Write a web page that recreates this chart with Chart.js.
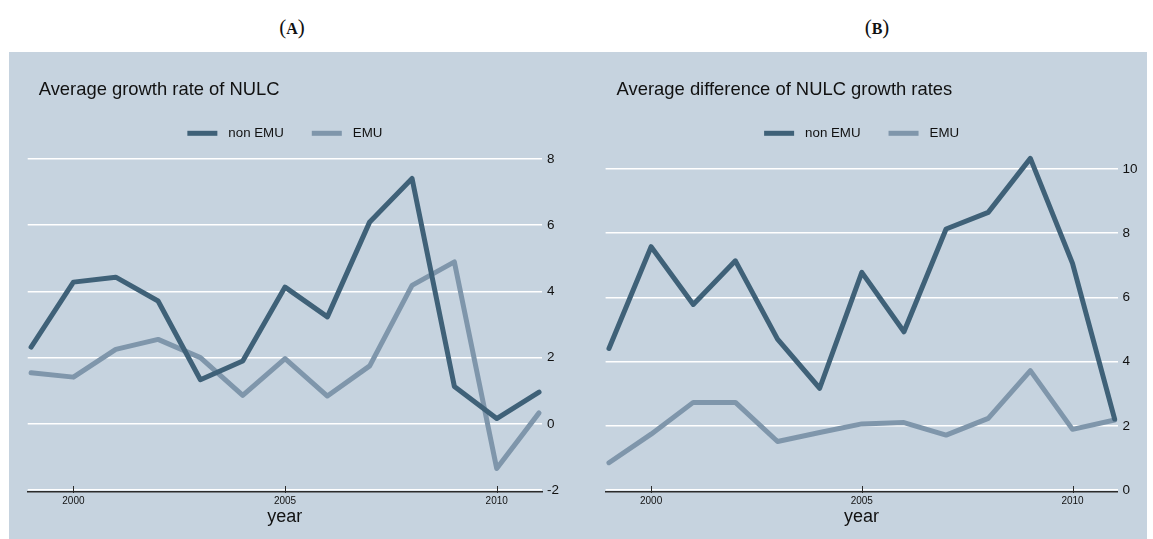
<!DOCTYPE html>
<html lang="en">
<head>
<meta charset="UTF-8">
<title>NULC growth rates, EMU vs non EMU</title>
<script src="https://cdn.jsdelivr.net/npm/chart.js"></script>
<style>
    body {
        margin: 0;
        background: #fff;
        width: 1153px;
        height: 539px;
        position: relative;
        overflow: hidden;
    }
    .panel-label {
        position: absolute;
        top: 15px;
        width: 80px;
        text-align: center;
        font-family: "Liberation Serif", "DejaVu Serif", serif;
        font-size: 21px;
        color: #111;
    }
    .panel-label span {
        font-size: 16px;
        font-weight: bold;
    }
    #bg {
        position: absolute;
        left: 9px;
        top: 52px;
        width: 1138px;
        height: 487px;
        background: #c6d3df;
    }
    canvas {
        position: absolute;
        top: 52px;
    }
</style>
</head>
<body>
<div class="panel-label" style="left:252px">(<span>A</span>)</div>
<div class="panel-label" style="left:837px">(<span>B</span>)</div>
<div id="bg"></div>
<canvas id="chartA" width="568" height="487" style="left:9px"></canvas>
<canvas id="chartB" width="570" height="487" style="left:577px"></canvas>
<script>
const years = [1999, 2000, 2001, 2002, 2003, 2004, 2005, 2006, 2007, 2008, 2009, 2010, 2011];

// average growth rate of NULC
const growthNonEmu = [2.32, 4.28, 4.43, 3.71, 1.33, 1.90, 4.13, 3.23, 6.10, 7.41, 1.13, 0.16, 0.96];
const growthEmu = [1.54, 1.41, 2.25, 2.55, 2.00, 0.86, 1.97, 0.84, 1.75, 4.18, 4.89, -1.35, 0.33];

// average difference of NULC growth rates
const diffNonEmu = [4.41, 7.58, 5.78, 7.14, 4.70, 3.17, 6.78, 4.93, 8.13, 8.65, 10.33, 7.06, 2.21];
const diffEmu = [0.85, 1.74, 2.73, 2.73, 1.51, 1.79, 2.06, 2.10, 1.71, 2.23, 3.72, 1.89, 2.18];

const yearTicks = [2000, 2005, 2010];
const growthTicks = [-2, 0, 2, 4, 6, 8];
const diffTicks = [0, 2, 4, 6, 8, 10];

const seriesNames = ['non EMU', 'EMU'];
const seriesColors = ['#3f6178', '#7f96ab'];

const FONT = '"Liberation Sans", Arial, Helvetica, sans-serif';

// title + legend above the plot, and small inward ticks on the year axis
const panelDecor = {
    id: 'panelDecor',
    afterDraw(chart, args, opts) {
        const ctx = chart.ctx;
        const area = chart.chartArea;
        ctx.save();
        ctx.fillStyle = '#111';
        ctx.textBaseline = 'middle';
        ctx.textAlign = 'left';
        ctx.font = '18.4px ' + FONT;
        ctx.fillText(opts.title, area.left + 11, 38);

        ctx.font = '13.3px ' + FONT;
        const sets = chart.data.datasets;
        const widths = sets.map(ds => ctx.measureText(ds.label).width);
        let total = 0;
        widths.forEach((w, i) => { total += 30 + 11 + w + (i > 0 ? 28 : 0); });
        let x = (area.left + area.right) / 2 - total / 2;
        sets.forEach((ds, i) => {
            ctx.fillStyle = ds.borderColor;
            ctx.fillRect(x, 81.3 - 2.5, 30, 5);
            ctx.fillStyle = '#111';
            ctx.fillText(ds.label, x + 41, 81.3);
            x += 30 + 11 + widths[i] + 28;
        });

        const xs = chart.scales.x;
        ctx.strokeStyle = '#2b2b2b';
        ctx.lineWidth = 1;
        yearTicks.forEach(v => {
            const px = Math.round(xs.getPixelForValue(v)) + 0.5;
            ctx.beginPath();
            ctx.moveTo(px, area.bottom - 6);
            ctx.lineTo(px, area.bottom + 1);
            ctx.stroke();
        });
        ctx.restore();
    }
};

function makeSeries(values, i) {
    return {
        label: seriesNames[i],
        data: years.map((yr, k) => ({ x: yr, y: values[k] })),
        borderColor: seriesColors[i],
        backgroundColor: seriesColors[i],
        borderWidth: 5,
        borderJoinStyle: 'round',
        borderCapStyle: 'round',
        pointRadius: 0,
        tension: 0,
        clip: false
    };
}

function makeChart(id, title, nonEmu, emu, ticks, yMin, yMax, padLeft, yWidth) {
    return new Chart(document.getElementById(id), {
        type: 'line',
        data: {
            datasets: [makeSeries(nonEmu, 0), makeSeries(emu, 1)]
        },
        options: {
            responsive: false,
            animation: false,
            devicePixelRatio: 1,
            layout: { padding: { left: padLeft, top: 105, right: 0, bottom: 0 } },
            plugins: {
                legend: { display: false },
                title: { display: false },
                tooltip: { enabled: false },
                panelDecor: { title: title }
            },
            scales: {
                x: {
                    type: 'linear',
                    min: 1998.92,
                    max: 2011.07,
                    afterBuildTicks: s => { s.ticks = yearTicks.map(v => ({ value: v })); },
                    afterFit: s => { s.height = 47; },
                    grid: { display: true, drawOnChartArea: false, drawTicks: false },
                    border: { color: '#2b2b2b', width: 1.5 },
                    ticks: {
                        padding: 3,
                        color: '#111',
                        maxRotation: 0,
                        autoSkip: false,
                        font: { size: 10, family: FONT },
                        callback: v => String(v)
                    },
                    title: {
                        display: true,
                        text: 'year',
                        color: '#111',
                        font: { size: 18, family: FONT },
                        padding: { top: 0, bottom: 11 }
                    }
                },
                y: {
                    position: 'right',
                    min: yMin,
                    max: yMax,
                    afterBuildTicks: s => { s.ticks = ticks.map(v => ({ value: v })); },
                    afterFit: s => { s.width = yWidth; },
                    grid: { color: '#ffffff', lineWidth: 1.6, drawTicks: false },
                    border: { display: false },
                    ticks: {
                        padding: 5,
                        color: '#111',
                        font: { size: 13.5, family: FONT }
                    }
                }
            }
        },
        plugins: [panelDecor]
    });
}

makeChart('chartA', 'Average growth rate of NULC', growthNonEmu, growthEmu, growthTicks, -2.06, 8.06, 18.7, 35);
makeChart('chartB', 'Average difference of NULC growth rates', diffNonEmu, diffEmu, diffTicks, -0.062, 10.374, 28.6, 29.4);
</script>
</body>
</html>
